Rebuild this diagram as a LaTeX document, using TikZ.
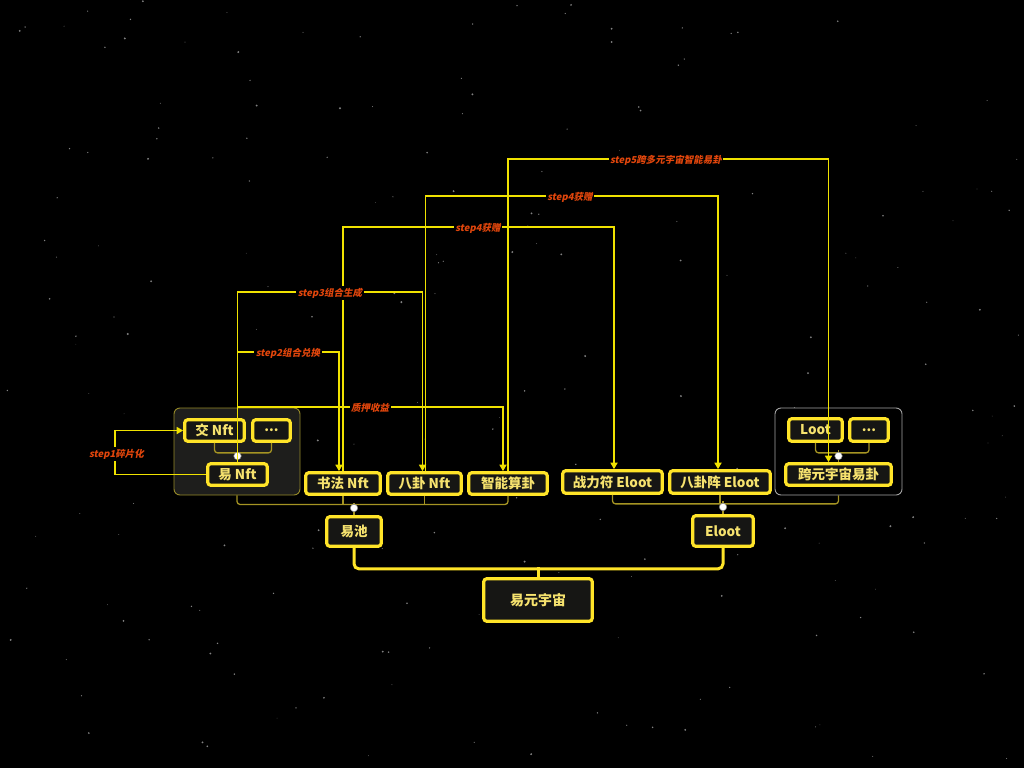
\documentclass[tikz,border=0pt]{standalone}
\usepackage{fontspec}
\setmainfont{Noto Sans CJK SC}
\newfontfamily\labelfont[FakeSlant=0.2]{Noto Sans CJK SC}
\usetikzlibrary{arrows.meta}

\definecolor{boxyellow}{RGB}{255,228,40}
\definecolor{textyellow}{RGB}{246,226,110}
\definecolor{boxfill}{RGB}{22,22,20}
\definecolor{relyellow}{RGB}{240,226,0}
\definecolor{treeolive}{RGB}{165,148,35}
\definecolor{labelred}{RGB}{226,70,12}
\definecolor{grpfill}{RGB}{30,30,28}
\definecolor{grpedge}{RGB}{150,138,40}
\definecolor{grpedgeR}{RGB}{165,165,165}
\definecolor{stargray}{RGB}{130,130,130}

\tikzset{topic_box/.style={draw=boxyellow, line width=3.2pt, rounded corners=3pt, fill=boxfill, text=textyellow, font=\bfseries\fontsize{13.5}{13.5}\selectfont, inner sep=0pt, minimum height=21.5pt}}
\tikzset{group_box/.style={rounded corners=6pt, line width=0.9pt, minimum width=126pt, minimum height=87pt}}
\tikzset{rel_edge/.style={color=relyellow, line width=1.8pt, -{Triangle[width=7pt,length=6.5pt]}}}
\tikzset{rel_label/.style={fill=black, text=labelred, font=\labelfont\bfseries\fontsize{9.5}{9.5}\selectfont, inner sep=1.5pt}}
\tikzset{tree_edge/.style={color=treeolive, line width=1.3pt, rounded corners=3pt}}
\tikzset{main_edge/.style={color=boxyellow, line width=3pt, rounded corners=5pt}}
\tikzset{fold_dot/.style={circle, fill=white, draw=gray, line width=0.5pt, inner sep=0pt, minimum size=7.5pt}}

\begin{document}
\begin{tikzpicture}[x=1pt,y=-1pt]
    \fill[black] (0,0) rectangle (1024,768);
    \useasboundingbox (0,0) rectangle (1024,768);
    % stars
    \pgfmathsetseed{42}
    \foreach \i in {1,...,200}{
        \pgfmathsetmacro{\sx}{rnd*1024}
        \pgfmathsetmacro{\sy}{rnd*768}
        \pgfmathsetmacro{\sr}{0.3+rnd*0.8}
        \fill[stargray] (\sx,\sy) circle (\sr pt);
    }
    % groups
    \node[group_box, draw=grpedge, fill=grpfill] (grpL) at (237,451.5) {};
    \node[group_box, draw=grpedgeR, fill=black, minimum width=127pt] (grpR) at (838.5,451.5) {};
    % topics
    \node[topic_box, minimum width=59.5pt] (jiao) at (214.5,430.5) {交 Nft};
    \node[topic_box, minimum width=37.5pt] (dotsL) at (271.5,430.5) {...};
    \node[topic_box, minimum width=59.5pt] (yinft) at (237.5,474.5) {易 Nft};
    \node[topic_box, minimum width=74.5pt] (shufa) at (343,483.5) {书法 Nft};
    \node[topic_box, minimum width=73.5pt] (bagua) at (424.5,483.5) {八卦 Nft};
    \node[topic_box, minimum width=78.5pt] (zhineng) at (508,483.5) {智能算卦};
    \node[topic_box, minimum width=54.5pt, minimum height=29.5pt] (yichi) at (354,531.5) {易池};
    \node[topic_box, minimum width=99.5pt, minimum height=22.5pt] (zhanli) at (612.5,482) {战力符 Eloot};
    \node[topic_box, minimum width=100.5pt, minimum height=22.5pt] (baguazhen) at (720,482) {八卦阵 Eloot};
    \node[topic_box, minimum width=53.5pt, minimum height=22.5pt] (loot) at (815.5,430) {Loot};
    \node[topic_box, minimum width=38.5pt, minimum height=22.5pt] (dotsR) at (869,430) {...};
    \node[topic_box, minimum width=105.5pt] (kua) at (838.5,474.5) {跨元宇宙易卦};
    \node[topic_box, minimum width=60.5pt, minimum height=30.5pt] (eloot) at (723,531) {Eloot};
    \node[topic_box, minimum width=108.5pt, minimum height=42.5pt, font=\bfseries\fontsize{14}{14}\selectfont] (root) at (538,600) {易元宇宙};
    % tree lines
    \draw[tree_edge] (jiao.south) -- ++(0,10) -| (dotsL.south);
    \draw[tree_edge] (yinft.north) -- ++(0,-12);
    \draw[tree_edge] (loot.south) -- ++(0,10) -| (dotsR.south);
    \draw[tree_edge] (kua.north) -- ++(0,-12);
    \draw[tree_edge] (grpL.south) -- ++(0,9) -| (zhineng.south);
    \draw[tree_edge] (shufa.south) -- ++(0,9.5);
    \draw[tree_edge] (bagua.south) -- ++(0,9.5);
    \draw[tree_edge] (yichi.north) -- ++(0,-12);
    \draw[tree_edge] (zhanli.south) -- ++(0,9) -| (grpR.south);
    \draw[tree_edge] (baguazhen.south) -- ++(0,9);
    \draw[tree_edge] (eloot.north) -- ++(0,-13);
    \draw[main_edge] (yichi.south) -- ++(0,21) -| (eloot.south);
    \draw[main_edge] (root.north) -- ++(0,-10);
    \node[fold_dot] (foldL) at (237.5,456) {};
    \node[fold_dot] (foldR) at (838.5,456) {};
    \node[fold_dot] (foldC) at (354,508) {};
    \node[fold_dot] (foldE) at (723,507) {};
    % relations
    \draw[rel_edge] (yinft.west) -- ++(-91,0) |- (jiao.west);
    \draw[rel_edge] (yinft.north) -- ++(0,-110.5) -| ([xshift=-4pt]shufa.north);
    \draw[rel_edge] (yinft.north) -- ++(0,-170.5) -| ([xshift=-2pt]bagua.north);
    \draw[rel_edge] (yinft.north) -- ++(0,-55.5) -| ([xshift=-5pt]zhineng.north);
    \draw[rel_edge] (shufa.north) -- ++(0,-244.5) -| ([xshift=1.5pt]zhanli.north);
    \draw[rel_edge] ([xshift=1pt]bagua.north) -- ++(0,-275.5) -| ([xshift=-2pt]baguazhen.north);
    \draw[rel_edge] (zhineng.north) -- ++(0,-312.5) -| ([xshift=-10pt]kua.north);
    \node[rel_label] (lbl1) at (116.5,454) {step1碎片化};
    \node[rel_label] (lbl2) at (288,353) {step2组合兑换};
    \node[rel_label] (lbl3) at (330,293) {step3组合生成};
    \node[rel_label] (lblz) at (370,408) {质押收益};
    \node[rel_label] (lbl4a) at (478,228) {step4获赠};
    \node[rel_label] (lbl4b) at (570,197) {step4获赠};
    \node[rel_label] (lbl5) at (666,160) {step5跨多元宇宙智能易卦};
\end{tikzpicture}
\end{document}
